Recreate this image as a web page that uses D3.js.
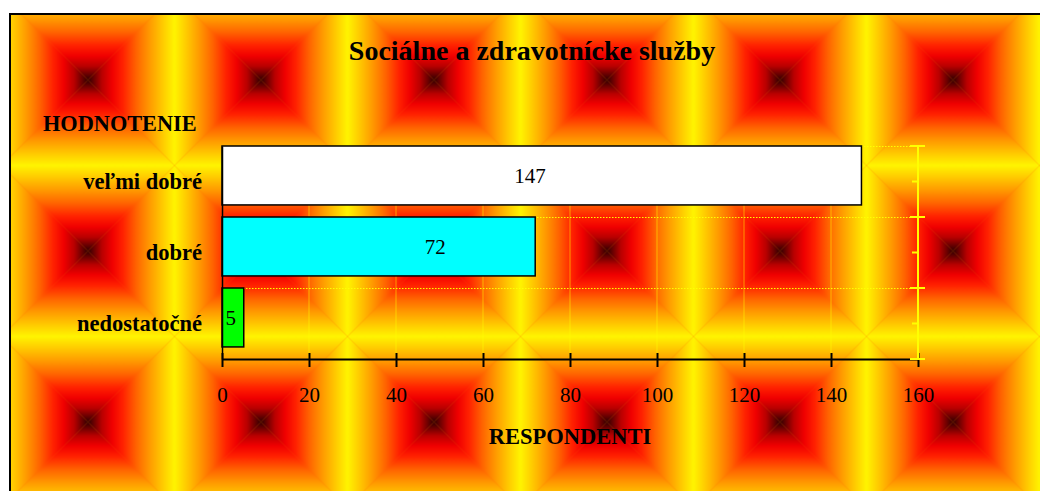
<!DOCTYPE html>
<html>
<head>
<meta charset="utf-8">
<script src="https://cdn.jsdelivr.net/npm/d3@7"></script>
<style>
  html, body { margin: 0; padding: 0; background: #ffffff; }
  svg { display: block; }
  text { font-family: "Liberation Serif", "Times New Roman", serif; fill: #000; }
</style>
</head>
<body>
<svg id="chart" width="1040" height="491"></svg>
<script>
// ---- data ----
const categories = ["veľmi dobré", "dobré", "nedostatočné"];
const values = [147, 72, 5];
const barColors = ["#ffffff", "#00ffff", "#00ff00"];
const xTicks = [0, 20, 40, 60, 80, 100, 120, 140, 160];
const labelAt = [70.8, 49, 2];   // where Excel put the value labels (data units)
const titleText = "Sociálne a zdravotnícke služby";
const yTitle = "HODNOTENIE";
const xTitle = "RESPONDENTI";

const W = 1040, H = 491;
const svg = d3.select("#chart");
const defs = svg.append("defs");

// ---- square "fire" gradient tile ----
const TW = 173, TH = 171;
const stops = [
  [0.00, "#300000"],
  [0.05, "#5a0000"],
  [0.16, "#b80000"],
  [0.28, "#f00000"],
  [0.40, "#ff2000"],
  [0.56, "#ff6400"],
  [0.72, "#ff9c00"],
  [0.87, "#ffcc00"],
  [1.00, "#fff400"]
];
function grad(id, x1, y1, x2, y2) {
  const g = defs.append("linearGradient").attr("id", id)
    .attr("x1", x1).attr("y1", y1).attr("x2", x2).attr("y2", y2);
  stops.forEach(s => g.append("stop").attr("offset", s[0]).attr("stop-color", s[1]));
}
// each gradient goes from centre (offset 0) to tile edge (offset 1)
grad("gTop", 0, 1, 0, 0);
grad("gBottom", 0, 0, 0, 1);
grad("gLeft", 1, 0, 0, 0);
grad("gRight", 0, 0, 1, 0);

const pat = defs.append("pattern").attr("id", "fire")
  .attr("patternUnits", "userSpaceOnUse")
  .attr("x", 88 - TW / 2).attr("y", 80 - TH / 2)
  .attr("width", TW).attr("height", TH);
pat.append("rect").attr("width", TW).attr("height", TH).attr("fill", "#ff6a00");
const cx = TW / 2, cy = TH / 2;
pat.append("polygon").attr("points", `0,0 ${TW},0 ${cx},${cy}`).attr("fill", "url(#gTop)");
pat.append("polygon").attr("points", `0,${TH} ${TW},${TH} ${cx},${cy}`).attr("fill", "url(#gBottom)");
pat.append("polygon").attr("points", `0,0 0,${TH} ${cx},${cy}`).attr("fill", "url(#gLeft)");
pat.append("polygon").attr("points", `${TW},0 ${TW},${TH} ${cx},${cy}`).attr("fill", "url(#gRight)");

// chart area background with border
svg.append("rect").attr("x", 10).attr("y", 14)
  .attr("width", W + 20).attr("height", H + 20)
  .attr("fill", "url(#fire)").attr("stroke", "#000").attr("stroke-width", 2);

// ---- scales ----
const x = d3.scaleLinear().domain([0, 160]).range([222, 918]);
const y = d3.scaleBand().domain(categories).range([146, 359]).paddingInner(0).paddingOuter(0);
const barH = y.bandwidth() * 0.83;

// ---- gridlines ----
svg.append("g").selectAll("line").data(xTicks.filter(t => t > 0 && t < 160)).join("line")
  .attr("x1", d => x(d)).attr("x2", d => x(d))
  .attr("y1", y.range()[0]).attr("y2", y.range()[1])
  .attr("stroke", "#ffff00").attr("stroke-opacity", 0.5).attr("stroke-width", 1);
svg.append("g").selectAll("line").data(categories).join("line")
  .attr("x1", x(0)).attr("x2", x(160))
  .attr("y1", d => y(d) + 0.5).attr("y2", d => y(d) + 0.5)
  .attr("stroke", "#ffff00").attr("stroke-width", 1).attr("stroke-dasharray", "1.5,1.5");

// ---- bars ----
svg.append("g").selectAll("rect").data(values).join("rect")
  .attr("x", x(0))
  .attr("y", (d, i) => y(categories[i]))
  .attr("width", d => x(d) - x(0))
  .attr("height", barH)
  .attr("fill", (d, i) => barColors[i])
  .attr("stroke", "#000").attr("stroke-width", 1.5);

// value labels
svg.append("g").selectAll("text").data(values).join("text")
  .attr("x", (d, i) => x(labelAt[i]))
  .attr("y", (d, i) => y(categories[i]) + barH / 2 + 8)
  .attr("text-anchor", "middle")
  .attr("font-size", 21)
  .text(d => d);

// ---- x axis ----
const xAxis = svg.append("g").attr("transform", `translate(0,${y.range()[1]})`)
  .call(d3.axisBottom(x).tickValues(xTicks).tickSizeInner(8).tickSizeOuter(0).tickPadding(20));
xAxis.select(".domain").attr("stroke", "#000").attr("stroke-width", 2);
xAxis.selectAll(".tick line").attr("y1", -6).attr("stroke", "#000").attr("stroke-width", 2);
xAxis.selectAll(".tick text").attr("font-family", "Liberation Serif, serif").attr("font-size", 21).attr("fill", "#000");

// ---- y axis (left) ----
const yAxis = svg.append("g").attr("transform", `translate(${x(0)},0)`)
  .call(d3.axisLeft(y).tickSize(0).tickPadding(20));
yAxis.select(".domain").attr("stroke", "#000").attr("stroke-width", 1.5);
yAxis.selectAll(".tick text").attr("font-family", "Liberation Serif, serif")
  .attr("font-size", 22.5).attr("font-weight", "bold").attr("fill", "#000").attr("dy", "0.32em");

// ---- secondary (yellow) axis on the right ----
const rg = svg.append("g");
const xr = x(160);
rg.append("line").attr("x1", xr).attr("x2", xr)
  .attr("y1", y.range()[0]).attr("y2", y.range()[1])
  .attr("stroke", "#ffff00").attr("stroke-width", 2);
const bounds = categories.map(c => y(c)).concat([y.range()[1]]);
rg.selectAll("line.major").data(bounds).join("line").attr("class", "major")
  .attr("x1", xr - 8).attr("x2", xr + 7)
  .attr("y1", d => d).attr("y2", d => d)
  .attr("stroke", "#ffff00").attr("stroke-width", 2);
rg.selectAll("line.minor").data(categories).join("line").attr("class", "minor")
  .attr("x1", xr - 6).attr("x2", xr)
  .attr("y1", d => y(d) + y.bandwidth() / 2).attr("y2", d => y(d) + y.bandwidth() / 2)
  .attr("stroke", "#ffff00").attr("stroke-width", 2);

// ---- titles ----
svg.append("text").attr("x", 532).attr("y", 60).attr("text-anchor", "middle")
  .attr("font-size", 28).attr("font-weight", "bold").text(titleText);
svg.append("text").attr("x", 43).attr("y", 131)
  .attr("font-size", 22.3).attr("font-weight", "bold").text(yTitle);
svg.append("text").attr("x", 570).attr("y", 444).attr("text-anchor", "middle")
  .attr("font-size", 22.5).attr("font-weight", "bold").text(xTitle);
</script>
</body>
</html>
